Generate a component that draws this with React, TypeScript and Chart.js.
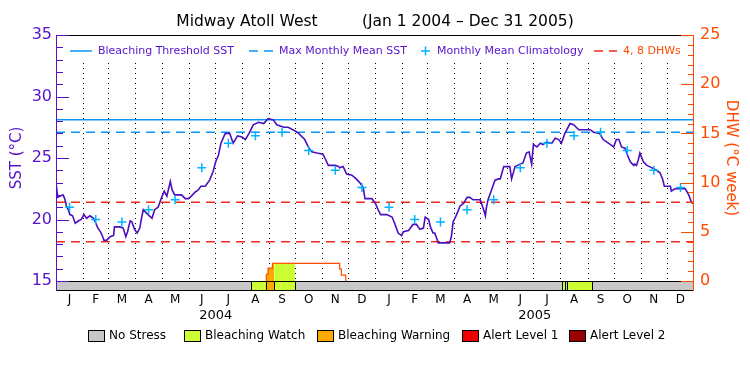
import React, { useEffect, useRef } from 'react';
import { Chart, registerables } from 'chart.js';

Chart.register(...registerables);

const FONT = '"DejaVu Sans", sans-serif';
const PURPLE = '#5511CC';
const SST_LINE = '#4B0FBE';
const ORANGE = '#FF4A00';
const BLUE = '#0A96F5';
const CYAN = '#00B4FF';
const RED_DASH = '#F52A1A';

// ---- data (x = days since 1 Jan 2004) ----
const sstDays = [
  0, 1, 2, 5, 8, 10, 12, 14, 16, 19, 22, 26, 29, 32, 35, 39, 43, 45, 48, 51, 53, 55, 58, 62, 66, 67, 73, 77, 80, 82,
  85, 87, 90, 93, 96, 98, 100, 104, 110, 113, 117, 120, 124, 127, 131, 133, 136, 144, 148, 152, 155, 159, 163, 166,
  171, 176, 180, 183, 186, 189, 192, 194, 199, 203, 208, 213, 217, 222, 226, 232, 238, 243, 249, 253, 261, 266, 274,
  278, 285, 289, 293, 299, 306, 308, 312, 320, 324, 325, 329, 333, 339, 344, 348, 352, 354, 362, 366, 369, 372, 379,
  385, 388, 392, 396, 398, 404, 409, 413, 417, 421, 423, 427, 429, 432, 434, 438, 451, 453, 455, 459, 463, 467, 471,
  474, 478, 486, 490, 492, 493, 495, 499, 503, 507, 509, 513, 520, 522, 526, 532, 535, 539, 542, 545, 547, 551, 555,
  558, 562, 568, 572, 576, 579, 583, 589, 593, 599, 612, 616, 623, 627, 635, 639, 642, 645, 648, 652, 655, 658, 662,
  663, 665, 667, 669, 673, 677, 683, 688, 692, 695, 697, 704, 705, 709, 715, 721, 725, 728, 730,
];
const sstValues = [
  23.0, 23.0, 21.8, 21.9, 22.0, 21.7, 21.1, 20.8, 20.4, 20.3, 19.7, 19.9, 20.0, 20.4, 20.1, 20.3, 20.1, 19.8, 19.3, 19.0,
  18.7, 18.3, 18.3, 18.6, 18.7, 19.4, 19.4, 19.3, 18.6, 19.0, 19.9, 19.8, 19.2, 18.9, 19.3, 20.1, 20.8, 20.5, 20.1, 20.8,
  21.0, 21.6, 22.3, 21.9, 23.1, 22.4, 22.0, 22.0, 21.7, 21.7, 21.9, 22.2, 22.4, 22.7, 22.7, 23.2, 23.9, 24.7, 25.2, 26.2,
  26.7, 27.0, 27.0, 26.2, 26.8, 26.7, 26.5, 27.1, 27.7, 27.9, 27.8, 28.2, 28.1, 27.7, 27.5, 27.5, 27.2, 27.0, 26.5, 25.9,
  25.5, 25.4, 25.3, 25.0, 24.4, 24.4, 24.3, 24.2, 24.3, 23.7, 23.6, 23.3, 23.0, 22.6, 21.7, 21.7, 21.3, 20.8, 20.4, 20.4,
  20.2, 19.7, 18.9, 18.7, 19.0, 19.1, 19.6, 19.6, 19.2, 19.3, 20.2, 20.0, 19.4, 18.9, 18.9, 18.1, 18.1, 18.6, 19.8, 20.4,
  21.1, 21.3, 21.8, 21.8, 21.6, 21.6, 20.8, 20.3, 20.9, 21.6, 22.4, 23.2, 23.3, 23.3, 24.3, 24.3, 23.3, 24.3, 24.5, 24.6,
  25.4, 25.5, 24.5, 26.1, 25.9, 26.2, 26.1, 26.3, 26.2, 26.6, 26.5, 26.2, 27.0, 27.8, 27.7, 27.3, 27.3, 27.1, 27.0, 26.5,
  26.1, 25.9, 26.5, 26.5, 25.9, 25.8, 25.2, 24.7, 24.4, 24.5, 24.4, 24.8, 25.4, 24.7, 24.4, 24.2, 24.0, 23.8, 23.3, 22.7,
  22.7, 22.3, 22.5, 22.5, 22.5, 22.0, 21.4, 21.3,
];

const monthLetters = ['J', 'F', 'M', 'A', 'M', 'J', 'J', 'A', 'S', 'O', 'N', 'D'];
const monthLengths = [31, 29, 31, 30, 31, 30, 31, 31, 30, 31, 30, 31, 31, 28, 31, 30, 31, 30, 31, 31, 30, 31, 30, 31];
const yearLabels = ['2004', '2005'];
const yearLengths = [366, 365];

// Monthly mean climatology (Jan..Dec), same for each year
const climatology = [21.0, 20.0, 19.8, 20.8, 21.6, 24.2, 26.2, 26.8, 27.1, 25.6, 24.0, 22.6];
const bleachingThreshold = 28.1;
const maxMonthlyMean = 27.1;
const dhwLevels = [4, 8];

const dhwDays = [240, 241, 243, 248, 250, 274, 325, 327, 332];
const dhwValues = [0, 0.7, 1.3, 1.8, 1.8, 1.8, 1.2, 0.6, 0];

// stress periods [startDay, endDay)
const watchPeriods = [[223, 241], [250, 274], [580, 583], [586, 614]];
const warningPeriods = [[241, 250]];
const alert1Periods: number[][] = [];
const alert2Periods: number[][] = [];

const statusNames = ['No Stress', 'Bleaching Watch', 'Bleaching Warning', 'Alert Level 1', 'Alert Level 2'];
const statusColors = ['#C8C8C8', '#CCFF33', '#FFAA00', '#EE0000', '#990000'];

// ---- derived calendar helpers ----
const monthStarts: number[] = [0];
monthLengths.forEach((l, i) => monthStarts.push(monthStarts[i] + l));
const monthMids = monthLengths.map((l, i) => monthStarts[i] + l / 2);
const totalDays = monthStarts[monthStarts.length - 1];
const yearMids = yearLengths.map((l, i) => yearLengths.slice(0, i).reduce((a, b) => a + b, 0) + l / 2);

const periodSets = [watchPeriods, warningPeriods, alert1Periods, alert2Periods];
function statusAt(day: number): number {
  let s = 0;
  periodSets.forEach((ps, k) => {
    ps.forEach(([a, b]) => {
      if (day >= a && day < b) s = k + 1;
    });
  });
  return s;
}

const decorPlugin = {
  id: 'decor',
  beforeDatasetsDraw(chart: any) {
    const { ctx, chartArea: a, scales } = chart;
    const x = scales.x;
    ctx.save();
    ctx.strokeStyle = '#000';
    ctx.lineWidth = 1;
    ctx.setLineDash([1, 4]);
    monthStarts.slice(1, -1).forEach((d) => {
      const px = Math.round(x.getPixelForValue(d)) + 0.5;
      ctx.beginPath();
      ctx.moveTo(px, a.top + 28);
      ctx.lineTo(px, a.bottom);
      ctx.stroke();
    });
    ctx.restore();
  },
  afterDraw(chart: any) {
    const { ctx, chartArea: a, scales } = chart;
    const x = scales.x;
    const y = scales.y;
    const y2 = scales.y2;
    const barTop = a.bottom;
    const barBot = a.bottom + 9;
    ctx.save();

    // status bar
    ctx.fillStyle = statusColors[0];
    ctx.fillRect(a.left, barTop, a.right - a.left, barBot - barTop);
    ctx.strokeStyle = '#000';
    ctx.lineWidth = 1;
    periodSets.forEach((ps, k) => {
      ps.forEach(([s, e]) => {
        const x0 = Math.round(x.getPixelForValue(s));
        const x1 = Math.round(x.getPixelForValue(e));
        ctx.fillStyle = statusColors[k + 1];
        ctx.fillRect(x0, barTop, x1 - x0, barBot - barTop);
        ctx.strokeRect(x0 + 0.5, barTop + 0.5, x1 - x0, barBot - barTop);
      });
    });
    ctx.beginPath();
    ctx.moveTo(a.left, barTop + 0.5);
    ctx.lineTo(a.right, barTop + 0.5);
    ctx.moveTo(a.left, barBot + 0.5);
    ctx.lineTo(a.right, barBot + 0.5);
    ctx.moveTo(a.left, a.top + 0.5);
    ctx.lineTo(a.right, a.top + 0.5);
    ctx.stroke();

    // left axis + inward ticks
    ctx.strokeStyle = PURPLE;
    ctx.beginPath();
    ctx.moveTo(a.left + 0.5, a.top);
    ctx.lineTo(a.left + 0.5, barBot + 1);
    for (let v = y.min; v <= y.max; v += 1) {
      const py = Math.round(y.getPixelForValue(v)) + 0.5;
      const len = v % 5 === 0 ? 13 : 7;
      ctx.moveTo(a.left, py);
      ctx.lineTo(a.left + len, py);
    }
    ctx.stroke();

    // right axis + inward ticks
    ctx.strokeStyle = ORANGE;
    ctx.beginPath();
    ctx.moveTo(a.right - 0.5, a.top);
    ctx.lineTo(a.right - 0.5, barBot + 1);
    for (let v = y2.min; v <= y2.max; v += 1) {
      const py = Math.round(y2.getPixelForValue(v)) + 0.5;
      const len = v % 5 === 0 ? 13 : 6;
      ctx.moveTo(a.right, py);
      ctx.lineTo(a.right - len, py);
    }
    ctx.stroke();

    // year labels
    ctx.fillStyle = '#000';
    ctx.font = `13px ${FONT}`;
    ctx.textAlign = 'center';
    ctx.textBaseline = 'middle';
    yearLabels.forEach((t, i) => ctx.fillText(t, x.getPixelForValue(yearMids[i]), a.bottom + 35));

    // top legend
    const ly = a.top + 16;
    ctx.font = `11px ${FONT}`;
    ctx.textAlign = 'left';
    ctx.lineWidth = 1.5;
    ctx.strokeStyle = BLUE;
    ctx.beginPath();
    ctx.moveTo(70, ly);
    ctx.lineTo(92, ly);
    ctx.stroke();
    ctx.setLineDash([9, 6]);
    ctx.beginPath();
    ctx.moveTo(249, ly);
    ctx.lineTo(273, ly);
    ctx.stroke();
    ctx.strokeStyle = RED_DASH;
    ctx.beginPath();
    ctx.moveTo(594, ly);
    ctx.lineTo(617, ly);
    ctx.stroke();
    ctx.setLineDash([]);
    ctx.strokeStyle = CYAN;
    ctx.beginPath();
    ctx.moveTo(421, ly);
    ctx.lineTo(430, ly);
    ctx.moveTo(425.5, ly - 4.5);
    ctx.lineTo(425.5, ly + 4.5);
    ctx.stroke();
    const ds = chart.data.datasets;
    ctx.fillStyle = PURPLE;
    ctx.fillText(ds[2].label, 98, ly);
    ctx.fillText(ds[3].label, 279, ly);
    ctx.fillText(ds[1].label, 437, ly);
    ctx.fillStyle = ORANGE;
    ctx.fillText('4, 8 DHWs', 623, ly);

    // bottom legend
    const boxX = [88, 184, 317, 462, 569];
    const by = 330;
    ctx.font = `12px ${FONT}`;
    ctx.lineWidth = 1;
    statusNames.forEach((n, i) => {
      ctx.fillStyle = statusColors[i];
      ctx.fillRect(boxX[i], by, 16, 11);
      ctx.strokeStyle = '#000';
      ctx.strokeRect(boxX[i] + 0.5, by + 0.5, 16, 11);
      ctx.fillStyle = '#000';
      ctx.fillText(n, boxX[i] + 21, by + 6);
    });
    ctx.restore();
  },
};

export default function App() {
  const ref = useRef<HTMLCanvasElement>(null);
  useEffect(() => {
    document.body.style.margin = '0';
    const climDays: number[] = [];
    const climVals: number[] = [];
    monthMids.forEach((d, i) => {
      climDays.push(d);
      climVals.push(climatology[i % 12]);
    });

    const chart = new Chart(ref.current as HTMLCanvasElement, {
      type: 'line',
      data: {
        datasets: [
          {
            label: 'SST',
            data: sstDays.map((d, i) => ({ x: d, y: sstValues[i] })),
            borderColor: SST_LINE,
            borderWidth: 1.6,
            pointRadius: 0,
            yAxisID: 'y',
            order: 1,
          },
          {
            label: 'Monthly Mean Climatology',
            data: climDays.map((d, i) => ({ x: d, y: climVals[i] })),
            showLine: false,
            pointStyle: 'cross',
            pointRadius: 4.5,
            pointBorderColor: CYAN,
            pointBorderWidth: 1.5,
            yAxisID: 'y',
            order: 0,
          },
          {
            label: 'Bleaching Threshold SST',
            data: [{ x: 0, y: bleachingThreshold }, { x: totalDays, y: bleachingThreshold }],
            borderColor: BLUE,
            borderWidth: 1.5,
            pointRadius: 0,
            yAxisID: 'y',
            order: 3,
          },
          {
            label: 'Max Monthly Mean SST',
            data: [{ x: 0, y: maxMonthlyMean }, { x: totalDays, y: maxMonthlyMean }],
            borderColor: BLUE,
            borderWidth: 1.5,
            borderDash: [9, 6],
            pointRadius: 0,
            yAxisID: 'y',
            order: 3,
          },
          ...dhwLevels.map((lv) => ({
            label: `${lv} DHWs`,
            data: [{ x: 0, y: lv }, { x: totalDays, y: lv }],
            borderColor: RED_DASH,
            borderWidth: 1.5,
            borderDash: [9, 6],
            pointRadius: 0,
            yAxisID: 'y2',
            order: 4,
          })),
          {
            label: 'DHW',
            data: dhwDays.map((d, i) => ({ x: d, y: dhwValues[i] })),
            borderColor: ORANGE,
            borderWidth: 1.2,
            pointRadius: 0,
            stepped: true,
            fill: 'origin',
            backgroundColor: 'rgba(0,0,0,0)',
            segment: {
              backgroundColor: (c: any) => {
                const s = statusAt(c.p0.parsed.x);
                return s > 0 ? statusColors[s] : 'rgba(0,0,0,0)';
              },
            },
            yAxisID: 'y2',
            order: 5,
          } as any,
        ],
      },
      options: {
        responsive: false,
        devicePixelRatio: 1,
        animation: false,
        layout: { padding: 0 },
        plugins: {
          legend: { display: false },
          tooltip: { enabled: false },
          title: {
            display: true,
            text: 'Midway Atoll West         (Jan 1 2004 – Dec 31 2005)',
            color: '#000',
            font: { family: FONT, size: 15.5, weight: 'normal', lineHeight: 1.2 },
            padding: { top: 13, bottom: 3.4 },
          },
        },
        scales: {
          x: {
            type: 'linear',
            position: 'bottom',
            min: 0,
            max: totalDays,
            grid: { display: false, drawTicks: false },
            border: { display: false },
            afterBuildTicks: (s: any) => {
              s.ticks = monthMids.map((v) => ({ value: v }));
            },
            afterFit: (s: any) => {
              s.height = 94;
            },
            ticks: {
              autoSkip: false,
              maxRotation: 0,
              padding: 12,
              color: '#000',
              font: { family: FONT, size: 12 },
              callback: (_v: any, i: number) => monthLetters[i % 12],
            },
          },
          y: {
            type: 'linear',
            position: 'left',
            min: 15,
            max: 35,
            grid: { display: false, drawTicks: false },
            border: { display: false },
            afterFit: (s: any) => {
              s.width = 56;
            },
            ticks: { stepSize: 5, padding: 4, color: PURPLE, font: { family: FONT, size: 16 } },
            title: {
              display: true,
              text: 'SST (°C)',
              color: PURPLE,
              font: { family: FONT, size: 15, lineHeight: 1.2 },
              padding: { top: 8, bottom: 0 },
            },
          },
          y2: {
            type: 'linear',
            position: 'right',
            min: 0,
            max: 25,
            grid: { display: false, drawTicks: false },
            border: { display: false },
            afterFit: (s: any) => {
              s.width = 56;
            },
            ticks: { stepSize: 5, padding: 6, color: ORANGE, font: { family: FONT, size: 16 } },
            title: {
              display: true,
              text: 'DHW (°C week)',
              color: ORANGE,
              font: { family: FONT, size: 15, lineHeight: 1.2 },
              padding: { top: 10, bottom: 0 },
            },
          },
        },
      } as any,
      plugins: [decorPlugin],
    });
    return () => chart.destroy();
  }, []);

  return (
    <div style={{ position: 'absolute', left: 0, top: 0, width: 750, height: 375, background: '#fff' }}>
      <canvas ref={ref} width={750} height={375} style={{ display: 'block', width: 750, height: 375 }} />
    </div>
  );
}
